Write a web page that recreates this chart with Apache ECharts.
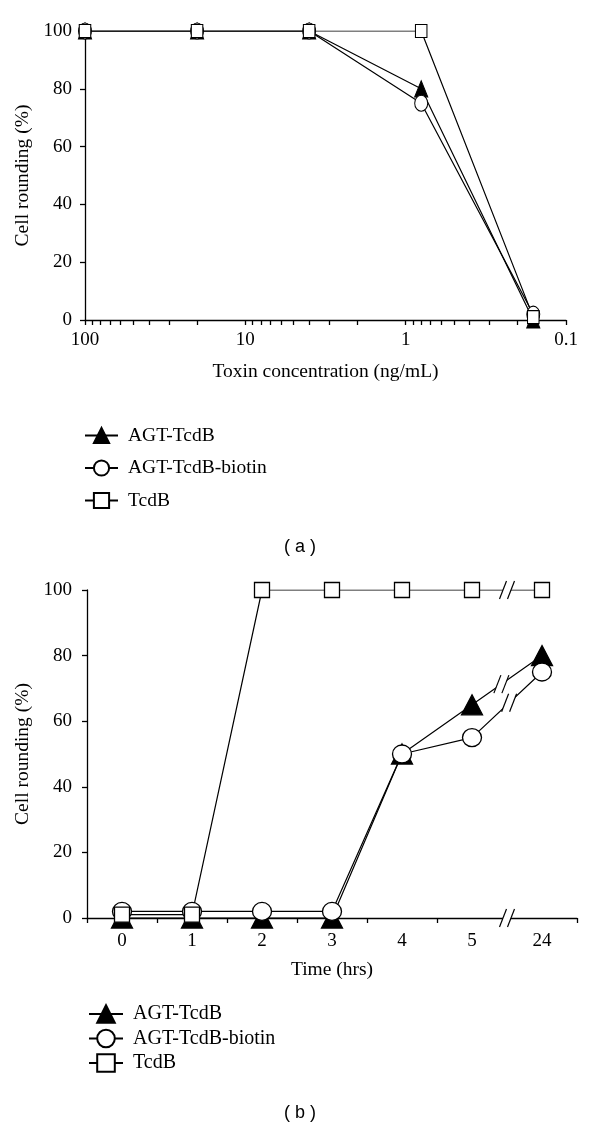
<!DOCTYPE html>
<html><head><meta charset="utf-8">
<script src="https://cdn.jsdelivr.net/npm/echarts@6/dist/echarts.min.js"></script>
<style>html,body{margin:0;padding:0;background:#fff}#c{width:600px;height:1130px}</style>
</head><body><div id="c"></div>
<script>
// ---------- data ----------
const seriesNames = ['AGT-TcdB', 'AGT-TcdB-biotin', 'TcdB'];

// panel (a): toxin concentration (ng/mL), log axis, reversed
const concentrations = [100, 20, 4, 0.8, 0.16];
const aAgtTcdB       = [100, 100, 100, 80, 0];
const aAgtTcdBBiotin = [100, 100, 100, 75, 2];
const aTcdB          = [100, 100, 100, 100, 1];
const aMajorTicks = [100, 10, 1, 0.1];
const aMinorTicks = [90, 80, 70, 60, 50, 40, 30, 20, 9, 8, 7, 6, 5, 4, 3, 2, 0.9, 0.8, 0.7, 0.6, 0.5, 0.4, 0.3, 0.2];

// panel (b): time (hrs), categories with a break between 5 and 24
const timeCategories = ['0', '1', '2', '3', '4', '5', '24'];
const bAgtTcdB       = [0, 0, 0, 0, 50, 65, 80];
const bAgtTcdBBiotin = [2, 2, 2, 2, 50, 55, 75];
const bTcdB          = [1, 1, 100, 100, 100, 100, 100];
const breakAfter = '5';
// fraction along the 5 -> 24 segment where each series' break mark sits
const bBreakFractions = [0.42, 0.53, 0.5];

const yTickInterval = 20;

// ---------- styles ----------
const SERIF = 'Liberation Serif';
const BLACK = '#000';
const symA = [['triangle', [13, 16]], ['circle', [13, 16]], ['rect', [11.5, 13]]];
const symB = [['triangle', [21, 20]], ['circle', [19, 18]], ['rect', [15, 15]]];
const fills = [BLACK, '#fff', '#fff'];

const chart = echarts.init(document.getElementById('c'), null, {renderer: 'canvas'});

function mkSeries(name, data, idx, sym, panel) {
  return {
    name: name, type: 'line', xAxisIndex: panel, yAxisIndex: panel,
    data: data, symbol: sym[0], symbolSize: sym[1], showSymbol: true,
    animation: false, silent: true,
    lineStyle: {color: BLACK, width: 1.2},
    itemStyle: {color: fills[idx], borderColor: BLACK, borderWidth: panel ? 1.3 : 1.1, opacity: 1},
    emphasis: {disabled: true}
  };
}

const aVals = [aAgtTcdB, aAgtTcdBBiotin, aTcdB];
const bVals = [bAgtTcdB, bAgtTcdBBiotin, bTcdB];
const series = [];
aVals.forEach((vals, i) => series.push(mkSeries(seriesNames[i], vals.map((v, j) => [concentrations[j], v]), i, symA[i], 0)));
bVals.forEach((vals, i) => series.push(mkSeries(seriesNames[i], vals, i, symB[i], 1)));

const breakTickIndex = timeCategories.indexOf(breakAfter) + 1;

const axisLineStyle = {color: BLACK, width: 1.3};
const labelStyle = {color: BLACK, fontFamily: SERIF, fontSize: 19};
const nameStyle = {color: BLACK, fontFamily: SERIF, fontSize: 19.5};

function yAxis(gridIndex, margin, nameGap) {
  return {
    type: 'value', gridIndex: gridIndex, min: 0, max: 100, interval: yTickInterval,
    name: 'Cell rounding (%)', nameLocation: 'middle', nameGap: nameGap, nameTextStyle: nameStyle,
    axisLine: {show: true, lineStyle: axisLineStyle},
    axisTick: {show: true, inside: false, length: 5, lineStyle: axisLineStyle},
    axisLabel: Object.assign({margin: margin}, labelStyle),
    splitLine: {show: false}
  };
}

const option = {
  animation: false,
  backgroundColor: '#fff',
  grid: [
    {left: 85, top: 31, width: 481, height: 289, containLabel: false, outerBoundsMode: 'none'},
    {left: 87, top: 590, width: 490, height: 328, containLabel: false, outerBoundsMode: 'none'}
  ],
  xAxis: [
    {
      type: 'log', logBase: 10, gridIndex: 0, min: 0.1, max: 100, inverse: true,
      name: 'Toxin concentration (ng/mL)', nameLocation: 'middle', nameGap: 42, nameTextStyle: nameStyle,
      axisLine: {show: true, onZero: false, lineStyle: axisLineStyle},
      axisTick: {show: true, length: 5, lineStyle: axisLineStyle, customValues: aMajorTicks.concat(aMinorTicks)},
      axisLabel: Object.assign({margin: 11, customValues: aMajorTicks, formatter: v => String(v)}, labelStyle),
      minorTick: {show: false},
      splitLine: {show: false}
    },
    {
      type: 'category', gridIndex: 1, data: timeCategories, boundaryGap: true,
      name: 'Time (hrs)', nameLocation: 'middle', nameGap: 42, nameTextStyle: nameStyle,
      axisLine: {show: true, onZero: false, lineStyle: axisLineStyle},
      axisTick: {show: true, length: 5, lineStyle: axisLineStyle, alignWithLabel: false,
                 interval: (idx) => idx !== breakTickIndex},
      axisLabel: Object.assign({margin: 14, interval: 0}, labelStyle),
      splitLine: {show: false}
    }
  ],
  yAxis: [yAxis(0, 13, 44), yAxis(1, 15, 46)],
  legend: [
    {
      data: seriesNames, orient: 'vertical', left: 84, top: 425.5, padding: 0,
      itemWidth: 33, itemHeight: 19, itemGap: 12.5, selectedMode: false,
      textStyle: {color: BLACK, fontFamily: SERIF, fontSize: 19.5, padding: [0, 0, 0, 5]}
    },
    {
      data: seriesNames, orient: 'vertical', left: 88, top: 1004, padding: 0,
      itemWidth: 34, itemHeight: 22, itemGap: 4.5, selectedMode: false,
      textStyle: {color: BLACK, fontFamily: SERIF, fontSize: 20, padding: [0, 0, 0, 5]}
    }
  ],
  series: series
};
chart.setOption(option);

// ---------- break marks (positions from the library's scales) ----------
const BRK = {h: 18, dx: 7, gap: 8, cover: 0.7};
function breakMark(cx, cy) {
  const h = BRK.h, dx = BRK.dx, g = BRK.gap;
  const xAt = (s, y) => cx + s - (y - cy) * dx / h; // point on slash through offset s at height y
  const hh = h / 2 * BRK.cover;
  const els = [{
    type: 'polygon', z: 100, silent: true,
    shape: {points: [[xAt(-g / 2, cy + hh), cy + hh], [xAt(-g / 2, cy - hh), cy - hh],
                     [xAt(g / 2, cy - hh), cy - hh], [xAt(g / 2, cy + hh), cy + hh]]},
    style: {fill: '#fff', stroke: null}
  }];
  [-g / 2, g / 2].forEach(s => els.push({
    type: 'line', z: 101, silent: true,
    shape: {x1: xAt(s, cy + h / 2), y1: cy + h / 2, x2: xAt(s, cy - h / 2), y2: cy - h / 2},
    style: {stroke: BLACK, lineWidth: 1.2}
  }));
  return els;
}
const i0 = timeCategories.indexOf(breakAfter), i1 = i0 + 1;
let gfx = [];
// axis break
const pA = chart.convertToPixel({gridIndex: 1}, [i0, 0]);
const pB = chart.convertToPixel({gridIndex: 1}, [i1, 0]);
gfx = gfx.concat(breakMark((pA[0] + pB[0]) / 2, pA[1]));
// series breaks
bVals.forEach((vals, k) => {
  const p0 = chart.convertToPixel({gridIndex: 1}, [i0, vals[i0]]);
  const p1 = chart.convertToPixel({gridIndex: 1}, [i1, vals[i1]]);
  const f = bBreakFractions[k];
  gfx = gfx.concat(breakMark(p0[0] + (p1[0] - p0[0]) * f, p0[1] + (p1[1] - p0[1]) * f));
});
// panel labels
gfx.push({type: 'text', x: 300, y: 547, z: 10, silent: true,
  style: {text: '( a )', textAlign: 'center', textVerticalAlign: 'middle', font: '18px "Liberation Sans"', fill: BLACK}});
gfx.push({type: 'text', x: 300, y: 1113, z: 10, silent: true,
  style: {text: '( b )', textAlign: 'center', textVerticalAlign: 'middle', font: '18px "Liberation Sans"', fill: BLACK}});
chart.setOption({graphic: {elements: gfx}});
</script>
</body></html>
